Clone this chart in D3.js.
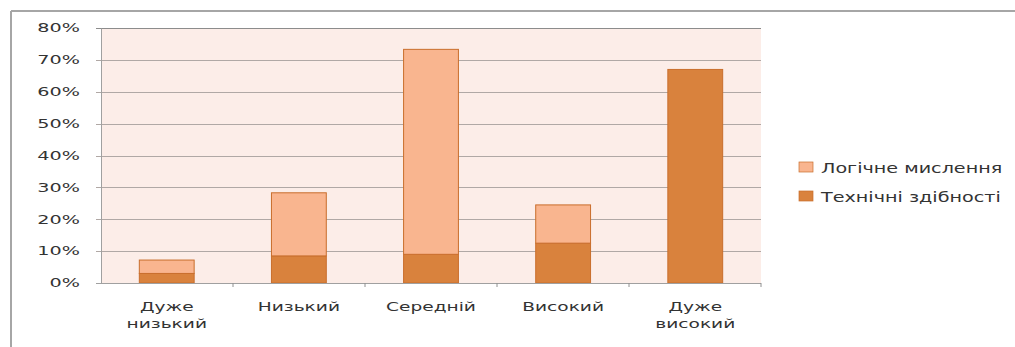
<!DOCTYPE html>
<html>
<head>
    <meta charset="utf-8">
    <script src="https://d3js.org/d3.v7.min.js"></script>
    <style>
        body { margin: 0; background: #fff; }
        svg { display: block; font-family: "DejaVu Sans", sans-serif; }
    </style>
</head>
<body>
<svg id="chart" width="1015" height="347"></svg>
<script>
    // Data (percent)
    const categories = ["Дуже низький", "Низький", "Середній", "Високий", "Дуже високий"];
    const categoryLines = [["Дуже", "низький"], ["Низький"], ["Середній"], ["Високий"], ["Дуже", "високий"]];
    const technical = [3, 8.5, 9, 12.5, 67];      // Технічні здібності (bottom)
    const logical = [4.2, 19.8, 64.3, 12, 0];      // Логічне мислення (top)
    const seriesNames = ["Технічні здібності", "Логічне мислення"];
    const yTicks = [0, 10, 20, 30, 40, 50, 60, 70, 80];

    const colors = { "Технічні здібності": "#d9823d", "Логічне мислення": "#f9b58f" };

    const svg = d3.select('#chart');
    const margin = { left: 101, right: 254, top: 28, bottom: 64 };
    const width = 1015 - margin.left - margin.right;
    const height = 347 - margin.top - margin.bottom;

    // outer frame lines
    svg.append('line').attr('x1', 11).attr('x2', 1015).attr('y1', 11).attr('y2', 11)
        .attr('stroke', '#a6a6a6').attr('stroke-width', 2);
    svg.append('line').attr('x1', 11).attr('x2', 11).attr('y1', 11).attr('y2', 347)
        .attr('stroke', '#a6a6a6').attr('stroke-width', 2);

    const g = svg.append('g').attr('transform', `translate(${margin.left},${margin.top})`);

    const x = d3.scaleBand().domain(categories).range([0, width]).paddingInner(0.585).paddingOuter(0.29);
    const y = d3.scaleLinear().domain([0, 80]).range([height, 0]);

    g.append('rect').attr('width', width).attr('height', height).attr('fill', '#fcede8');

    // gridlines
    g.append('g').selectAll('line').data(yTicks.filter(d => d > 0)).join('line')
        .attr('x1', -5).attr('x2', width)
        .attr('y1', d => Math.round(y(d)) + 0.5).attr('y2', d => Math.round(y(d)) + 0.5)
        .attr('stroke', d => d === 80 ? '#8c8c8c' : '#b0a8a5').attr('stroke-width', 1);

    // stacked bars
    const rows = categories.map((c, i) => ({ cat: c, "Технічні здібності": technical[i], "Логічне мислення": logical[i] }));
    const stack = d3.stack().keys(seriesNames)(rows);

    g.append('g').selectAll('g').data(stack).join('g')
        .attr('fill', d => colors[d.key])
        .selectAll('rect').data(d => d.filter(p => p[1] - p[0] > 0)).join('rect')
        .attr('x', d => x(d.data.cat))
        .attr('width', x.bandwidth())
        .attr('y', d => y(d[1]))
        .attr('height', d => y(d[0]) - y(d[1]))
        .attr('stroke', '#c96e2c')
        .attr('stroke-width', 1);

    // y axis
    const yAxis = g.append('g')
        .call(d3.axisLeft(y).tickValues(yTicks).tickFormat(d => d + '%').tickSize(0).tickPadding(0));
    yAxis.select('.domain').attr('stroke', '#a0a0a0');
    yAxis.selectAll('text')
        .attr('x', 0)
        .attr('transform', 'translate(-21,0) scale(1.6,1)')
        .attr('font-size', 12)
        .attr('font-family', '"DejaVu Sans", sans-serif')
        .attr('fill', '#333');

    // x axis
    const step = width / categories.length;
    const base = g.append('g').attr('transform', `translate(0,${height})`);
    base.append('line').attr('x1', -5).attr('x2', width).attr('y1', 0.5).attr('y2', 0.5).attr('stroke', '#a0a0a0');
    base.selectAll('.tk').data(d3.range(1, categories.length + 1)).join('line')
        .attr('class', 'tk')
        .attr('x1', d => d * step).attr('x2', d => d * step)
        .attr('y1', 0).attr('y2', 4).attr('stroke', '#909090');

    const labels = base.selectAll('.lab').data(categories).join('text')
        .attr('class', 'lab')
        .attr('transform', d => `translate(${x(d) + x.bandwidth() / 2},0) scale(1.55,1)`)
        .attr('text-anchor', 'middle')
        .attr('font-size', 12)
        .attr('fill', '#333');
    labels.selectAll('tspan').data((d, i) => categoryLines[i]).join('tspan')
        .attr('x', 0)
        .attr('y', (d, i) => 28 + i * 17)
        .text(d => d);

    // legend
    const legendItems = ["Логічне мислення", "Технічні здібності"];
    const legend = svg.append('g').attr('transform', 'translate(799,161)');
    const li = legend.selectAll('g').data(legendItems).join('g')
        .attr('transform', (d, i) => `translate(0,${i * 29})`);
    li.append('rect').attr('width', 14).attr('height', 10).attr('y', 1)
        .attr('fill', d => colors[d]).attr('stroke', '#c96e2c').attr('stroke-width', 0.7);
    li.append('text')
        .attr('transform', 'translate(22,11.5) scale(1.42,1)')
        .attr('font-size', 13.5)
        .attr('fill', '#333')
        .text(d => d);
</script>
</body>
</html>
